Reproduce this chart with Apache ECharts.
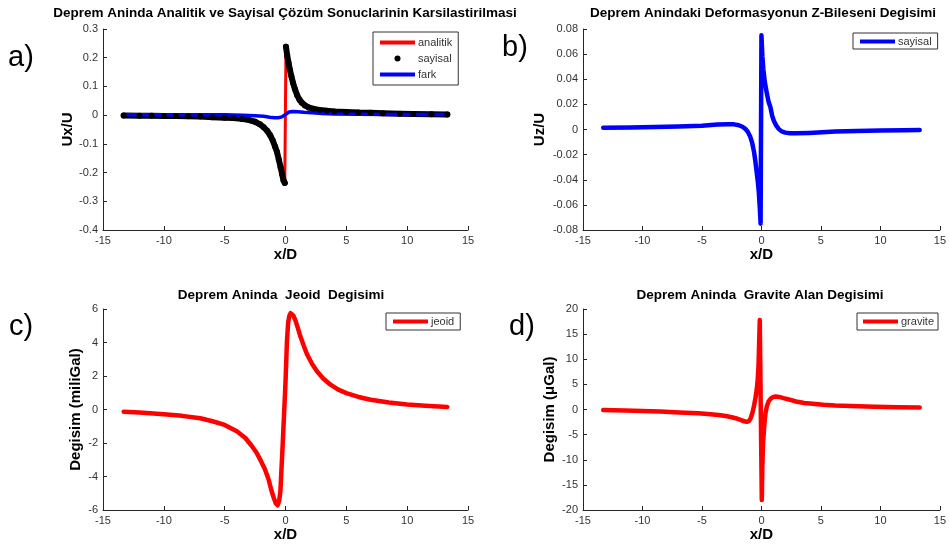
<!DOCTYPE html>
<html>
<head>
<meta charset="utf-8">
<script src="https://cdn.jsdelivr.net/npm/echarts@6/dist/echarts.min.js"></script>
<style>
html,body{margin:0;padding:0;background:#fff;}
#c{width:949px;height:548px;}
</style>
</head>
<body>
<div id="c"></div>
<script>
// ---------- Data ----------
// Panel a: Ux/U
var xA = [-13.3,-12,-11,-10,-9,-8,-7,-6,-5,-4.3,-3.6,-3,-2.5,-2.1,-1.8,-1.5,-1.25,-1.05,-0.85,-0.7,-0.55,-0.4,-0.28,-0.16,-0.06,
          0.04,0.14,0.25,0.36,0.48,0.62,0.78,0.95,1.15,1.35,1.6,1.9,2.3,2.8,3.4,4,5,6,7,8,9.4,10.5,12,13.3];
var sayisalA = [-0.001,-0.002,-0.002,-0.003,-0.003,-0.004,-0.005,-0.007,-0.009,-0.010,-0.013,-0.017,-0.023,-0.032,-0.042,-0.055,-0.071,-0.088,-0.110,-0.128,-0.155,-0.182,-0.205,-0.228,-0.236,
          0.238,0.208,0.182,0.158,0.136,0.112,0.090,0.070,0.054,0.043,0.034,0.027,0.022,0.018,0.015,0.013,0.011,0.009,0.008,0.007,0.005,0.004,0.003,0.002];
var analitikA = [-0.001,-0.002,-0.002,-0.003,-0.003,-0.004,-0.005,-0.007,-0.009,-0.010,-0.013,-0.017,-0.023,-0.032,-0.042,-0.055,-0.071,-0.088,-0.110,-0.128,-0.155,-0.182,-0.205,-0.228,-0.236,
          0.238,0.208,0.182,0.158,0.136,0.112,0.090,0.070,0.054,0.043,0.034,0.027,0.022,0.018,0.015,0.013,0.011,0.009,0.008,0.007,0.005,0.004,0.003,0.002];
var xF = [-13.3,-10,-7,-5,-3.5,-2.5,-1.8,-1.3,-0.9,-0.6,-0.3,0,0.3,0.6,1.0,1.5,2.2,3,4,6,8,10,13.3];
var farkA = [0.001,0.001,0.001,0.001,0.0,-0.002,-0.004,-0.007,-0.009,-0.009,-0.006,0.002,0.011,0.013,0.012,0.010,0.008,0.006,0.004,0.003,0.002,0.002,0.002];

// Panel b: Uz/U
var xB = [-13.3,-11,-9,-7,-5,-3.7,-2.8,-2.3,-1.9,-1.6,-1.35,-1.15,-0.95,-0.78,-0.62,-0.5,-0.4,-0.3,-0.22,-0.14,-0.07,
          0.0,0.08,0.16,0.28,0.45,0.6,0.75,0.9,1.05,1.25,1.45,1.7,2.0,2.4,2.9,4,5.1,6.2,8,10,12,13.3];
var sayisalB = [0.0014,0.0016,0.0019,0.0024,0.003,0.0039,0.0041,0.0041,0.0034,0.0022,0.0005,-0.0018,-0.0055,-0.0105,-0.018,-0.026,-0.034,-0.042,-0.050,-0.062,-0.075,
          0.075,0.058,0.048,0.038,0.029,0.022,0.018,0.011,0.0068,0.003,0.0005,-0.0015,-0.0025,-0.003,-0.003,-0.0027,-0.0022,-0.0016,-0.0011,-0.0008,-0.0005,-0.0004];

// Panel c: jeoid
var xC = [-13.3,-12,-10,-8.5,-7,-6,-5,-4,-3.3,-2.8,-2.4,-2.0,-1.7,-1.4,-1.15,-0.95,-0.8,-0.65,-0.52,-0.42,-0.32,-0.22,-0.12,
          0,0.12,0.22,0.32,0.42,0.53,0.65,0.8,1.0,1.22,1.5,1.8,2.2,2.6,3.1,3.7,4.3,5,6,7,8.5,10,11.5,13.3];
var jeoidC = [-0.13,-0.18,-0.28,-0.38,-0.52,-0.7,-0.92,-1.30,-1.70,-2.15,-2.55,-3.10,-3.55,-4.15,-4.85,-5.30,-5.60,-5.72,-5.45,-4.9,-3.4,-1.9,-0.3,
          1.6,4.1,5.2,5.6,5.75,5.77,5.6,5.35,4.9,4.37,3.8,3.25,2.7,2.27,1.85,1.48,1.2,0.98,0.75,0.58,0.42,0.3,0.22,0.15];

// Panel d: gravite
var xD = [-13.3,-11.5,-10,-8.5,-6.9,-5.3,-4.3,-3.6,-3,-2.5,-2,-1.7,-1.45,-1.25,-1.05,-0.9,-0.75,-0.62,-0.5,-0.4,-0.32,-0.25,-0.19,-0.14,-0.1,
          0.03,0.08,0.14,0.2,0.27,0.35,0.45,0.6,0.8,1,1.2,1.5,1.85,2.3,2.9,3.6,4.3,5.2,6.2,7.5,9.5,11.5,13.3];
var graviteD = [-0.1,-0.2,-0.3,-0.42,-0.6,-0.75,-0.95,-1.1,-1.3,-1.55,-1.85,-2.1,-2.35,-2.45,-2.3,-1.7,-0.6,0.8,2.3,3.9,5.8,8.5,13.5,17.8,18,
          -18,-11,-6.5,-4.5,-2.2,-0.6,0.6,1.6,2.2,2.5,2.6,2.5,2.27,2,1.6,1.3,1.14,0.95,0.8,0.68,0.55,0.47,0.4];

// Axis tick settings
var xTicks = {min: -15, max: 15, interval: 5};
var yTicksA = {min: -0.4, max: 0.3, interval: 0.1};
var yTicksB = {min: -0.08, max: 0.08, interval: 0.02};
var yTicksC = {min: -6, max: 6, interval: 2};
var yTicksD = {min: -20, max: 20, interval: 5};

// ---------- Build ----------
function pairs(xs, ys){ return xs.map(function(x,i){ return [x, ys[i]]; }); }
// dots only (no connecting segment across the jump at x = 0)
function pairsSplitAtZero(xs, ys){
  var out = [];
  xs.forEach(function(x,i){
    if (i > 0 && xs[i-1] < 0 && x >= 0) out.push('-');
    out.push([x, ys[i]]);
  });
  return out;
}
var FONT = '"Liberation Sans", Arial, Helvetica, sans-serif';
var AX = '#262626';

function xAxis(grid){
  return {type:'value', gridIndex:grid, min:xTicks.min, max:xTicks.max, interval:xTicks.interval,
    name:'x/D', nameLocation:'middle', nameGap:17,
    nameTextStyle:{fontFamily:FONT, fontWeight:'bold', fontSize:15, color:'#000', verticalAlign:'top'},
    axisLine:{show:true, onZero:false, lineStyle:{color:AX, width:1}},
    axisTick:{show:true, inside:true, length:4, lineStyle:{color:AX}},
    axisLabel:{fontFamily:FONT, fontSize:11, color:'#333', margin:5},
    splitLine:{show:false}};
}
function yAxis(grid, t, name, gap){
  return {type:'value', gridIndex:grid, min:t.min, max:t.max, interval:t.interval,
    name:name, nameLocation:'middle', nameGap:gap,
    nameTextStyle:{fontFamily:FONT, fontWeight:'bold', fontSize:15, color:'#000'},
    axisLine:{show:true, onZero:false, lineStyle:{color:AX, width:1}},
    axisTick:{show:true, inside:true, length:4, lineStyle:{color:AX}},
    axisLabel:{fontFamily:FONT, fontSize:11, color:'#333', margin:5},
    splitLine:{show:false}};
}
var lineIcon = 'path://M0,0H35V4H0Z';
var dotIcon = 'path://M3,0A3,3,0,1,1,3,6A3,3,0,1,1,3,0Z';
function legend(left, top, pad, data){
  return {left:left, top:top, orient:'vertical', padding:pad, itemGap:5, itemWidth:35, itemHeight:6,
    selectedMode:false, backgroundColor:'#fff', borderColor:'#333', borderWidth:1, borderRadius:0,
    itemStyle:{borderWidth:0},
    textStyle:{fontFamily:FONT, fontSize:11, color:'#333', padding:[0,0,0,-2]},
    data:data};
}
function txt(x, y, text, font){
  return {type:'text', x:x, y:y, style:{text:text, font:font, fill:'#000', align:'center', verticalAlign:'middle'}};
}
function lbl(x, y, text){
  return {type:'text', x:x, y:y, style:{text:text, font:'29px ' + FONT, fill:'#000', align:'left', verticalAlign:'middle'}};
}
var TFONT = 'bold 13.5px ' + FONT;

var option = {
  animation:false,
  backgroundColor:'#fff',
  grid:[
    {left:103, top:29, width:365, height:201},
    {left:583, top:29, width:364, height:201},
    {left:103, top:309, width:365, height:201},
    {left:583, top:309, width:364, height:201}
  ],
  xAxis:[xAxis(0), xAxis(1), xAxis(2), xAxis(3)],
  yAxis:[
    yAxis(0, yTicksA, 'Ux/U', 28),
    yAxis(1, yTicksB, 'Uz/U', 36),
    yAxis(2, yTicksC, 'Degisim (miliGal)', 20),
    yAxis(3, yTicksD, 'Degisim (\u03bcGal)', 26)
  ],
  legend:[
    legend(373, 32, [5,6,5,7], [{name:'analitik', icon:lineIcon}, {name:'sayisal', icon:dotIcon, itemStyle:{color:'#000'}}, {name:'fark', icon:lineIcon}]),
    legend(853, 33, [3,6,2,7], [{name:'sayisal', icon:lineIcon, itemStyle:{color:'#0000ff'}}]),
    legend(386, 313, [3,6,3,7], [{name:'jeoid', icon:lineIcon}]),
    legend(857, 313, [3,4,3,6], [{name:'gravite', icon:lineIcon}])
  ],
  graphic:[
    txt(285, 13, 'Deprem Aninda Analitik ve Sayisal \u00c7\u00f6z\u00fcm Sonuclarinin Karsilastirilmasi', TFONT),
    txt(763, 13, 'Deprem Anindaki Deformasyonun Z-Bileseni Degisimi', TFONT),
    txt(281, 295, 'Deprem Aninda  Jeoid  Degisimi', TFONT),
    txt(760, 295, 'Deprem Aninda  Gravite Alan Degisimi', TFONT),
    lbl(8, 58, 'a)'),
    lbl(502, 48, 'b)'),
    lbl(9, 327, 'c)'),
    lbl(509, 327, 'd)')
  ],
  series:[
    {name:'analitik', type:'line', xAxisIndex:0, yAxisIndex:0, data:pairs(xA, analitikA), showSymbol:false, symbol:'none',
     color:'#ff0000', lineStyle:{color:'#ff0000', width:3}},
    {name:'sayisal', type:'line', xAxisIndex:0, yAxisIndex:0, data:pairsSplitAtZero(xA, sayisalA), symbol:'circle', symbolSize:6, showSymbol:true,
     connectNulls:false,
     color:'#000', itemStyle:{color:'#000', borderWidth:0}, lineStyle:{color:'#000', width:6, cap:'round', join:'round'}},
    {name:'fark', type:'line', xAxisIndex:0, yAxisIndex:0, data:pairs(xF, farkA), showSymbol:false, symbol:'none',
     color:'#0000ff', lineStyle:{color:'#0000ff', width:3.5, cap:'round', join:'round'}},
    {name:'sayisal', type:'line', xAxisIndex:1, yAxisIndex:1, data:pairs(xB, sayisalB), showSymbol:false, symbol:'none',
     color:'#0000ff', lineStyle:{color:'#0000ff', width:4.5, cap:'round', join:'round'}},
    {name:'jeoid', type:'line', xAxisIndex:2, yAxisIndex:2, data:pairs(xC, jeoidC), showSymbol:false, symbol:'none',
     color:'#ff0000', lineStyle:{color:'#ff0000', width:4.5, cap:'round', join:'round'}},
    {name:'gravite', type:'line', xAxisIndex:3, yAxisIndex:3, data:pairs(xD, graviteD), showSymbol:false, symbol:'none',
     color:'#ff0000', lineStyle:{color:'#ff0000', width:4.5, cap:'round', join:'round'}}
  ]
};
var chart = echarts.init(document.getElementById('c'), null, {renderer:'canvas'});
chart.setOption(option);
</script>
</body>
</html>
